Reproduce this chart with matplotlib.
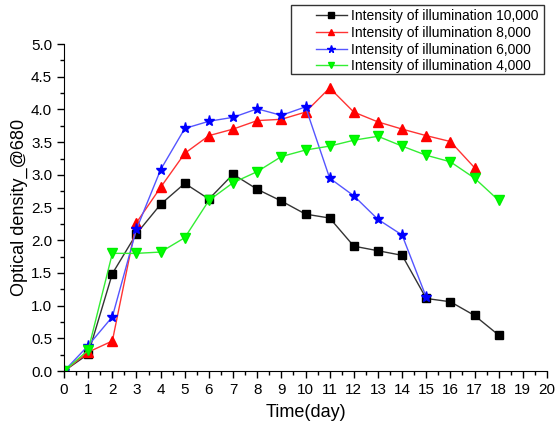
import matplotlib.pyplot as plt
from matplotlib.patches import Rectangle
from matplotlib.ticker import MultipleLocator

plt.rcParams['font.family'] = ['Liberation Sans', 'DejaVu Sans']

# Optical density readings per day for each light intensity
days_10000 = list(range(0, 19))
od_10000 = [0, 0.26, 1.49, 2.10, 2.55, 2.87, 2.63, 3.01, 2.78, 2.60,
            2.40, 2.34, 1.91, 1.84, 1.77, 1.11, 1.06, 0.85, 0.55]

days_8000 = list(range(0, 18))
od_8000 = [0, 0.29, 0.46, 2.27, 2.81, 3.33, 3.60, 3.70, 3.83, 3.85,
           3.96, 4.33, 3.96, 3.81, 3.70, 3.60, 3.51, 3.11]

days_6000 = list(range(0, 16))
od_6000 = [0, 0.39, 0.83, 2.17, 3.08, 3.71, 3.82, 3.88, 4.01, 3.91,
           4.04, 2.95, 2.68, 2.32, 2.08, 1.13]

days_4000 = list(range(0, 19))
od_4000 = [0, 0.32, 1.80, 1.80, 1.82, 2.04, 2.61, 2.88, 3.05, 3.28,
           3.38, 3.44, 3.53, 3.59, 3.44, 3.30, 3.20, 2.95, 2.61]

W, H = 557, 428
fig = plt.figure(figsize=(W / 100, H / 100), dpi=100)
ax = fig.add_axes([0.115, 0.133, 0.867, 0.764])

ax.plot(days_10000, od_10000, color='#333333', lw=1, marker='s', ms=6,
        mfc='black', mec='black', label='Intensity of illumination 10,000')
ax.plot(days_8000, od_8000, color='#ff3333', lw=1, marker='^', ms=7,
        mfc='red', mec='red', label='Intensity of illumination 8,000')
ax.plot(days_6000, od_6000, color='#5555ff', lw=1, marker='*', ms=8,
        mfc='blue', mec='blue', label='Intensity of illumination 6,000')
ax.plot(days_4000, od_4000, color='#33ee33', lw=1, marker='v', ms=7,
        mfc='#00ff00', mec='#00ee00', label='Intensity of illumination 4,000')

ax.set_xlim(0, 20)
ax.set_ylim(0, 5.0)
ax.xaxis.set_major_locator(MultipleLocator(1))
ax.xaxis.set_minor_locator(MultipleLocator(0.5))
ax.yaxis.set_major_locator(MultipleLocator(0.5))
ax.yaxis.set_minor_locator(MultipleLocator(0.25))
ax.yaxis.set_major_formatter(lambda v, p: f'{v:.1f}')

ax.spines['top'].set_visible(False)
ax.spines['right'].set_visible(False)
ax.tick_params(which='major', direction='out', length=5, width=1, labelsize=11)
ax.tick_params(which='minor', direction='out', length=3, width=1)

ax.set_xlabel('Time(day)', fontsize=13, labelpad=5)
ax.set_ylabel('Optical density_@680', fontsize=13, labelpad=2)

# legend without frame, box drawn separately (Origin style, wide left gap)
ax.legend(loc='upper left', bbox_to_anchor=(316 / W, 1 - 9 / H),
          bbox_transform=fig.transFigure, fontsize=10, frameon=False,
          handlelength=2.2, handletextpad=0.3, borderpad=0, borderaxespad=0,
          labelspacing=0.2, markerscale=0.7)
fig.patches.append(Rectangle((291 / W, 1 - 74 / H), (544 - 291) / W, 69 / H,
                             transform=fig.transFigure, fill=False,
                             edgecolor='#333333', lw=1))

fig.savefig('out.png', dpi=100)
